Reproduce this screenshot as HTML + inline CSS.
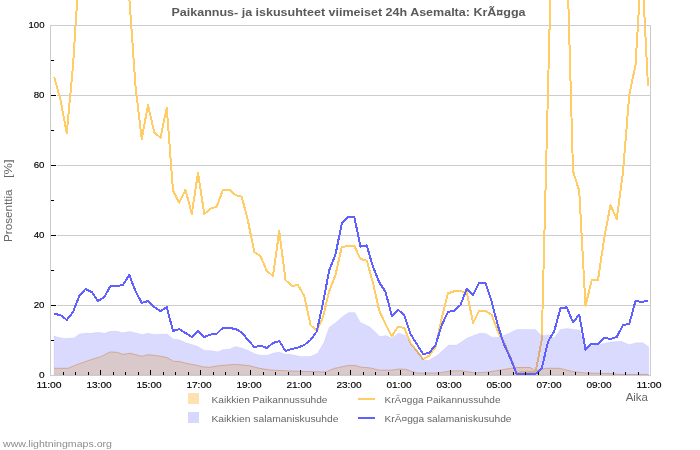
<!DOCTYPE html>
<html><head><meta charset="utf-8"><style>
html,body{margin:0;padding:0;background:#fff;}
body{width:700px;height:450px;overflow:hidden;position:relative;}
svg{position:absolute;left:0;top:0;will-change:transform;}
text{font-family:"Liberation Sans",sans-serif;}
</style></head><body>
<svg width="700" height="450" viewBox="0 0 700 450">
<rect x="0" y="0" width="700" height="450" fill="#fff"/>
<line x1="57" y1="95.5" x2="650" y2="95.5" stroke="#cccccc" stroke-width="1"/><line x1="57" y1="165.5" x2="650" y2="165.5" stroke="#cccccc" stroke-width="1"/><line x1="57" y1="235.5" x2="650" y2="235.5" stroke="#cccccc" stroke-width="1"/><line x1="57" y1="305.5" x2="650" y2="305.5" stroke="#cccccc" stroke-width="1"/>
<polygon points="54.0,375.0 54.0,368.3 68.0,368.3 76.7,364.7 90.0,360.0 100.7,356.7 110.0,352.0 117.3,352.3 122.7,354.4 130.0,353.3 142.0,356.3 148.0,354.7 154.0,355.3 160.7,356.3 167.3,357.6 173.3,361.3 179.3,361.6 186.0,363.3 196.7,365.3 203.3,367.0 210.0,367.3 216.7,366.0 223.3,365.3 235.3,364.4 248.7,365.6 259.3,368.3 270.0,370.0 290.0,371.0 325.6,372.0 334.4,368.4 348.7,365.4 354.9,365.4 361.0,367.2 370.0,367.9 378.9,370.2 391.3,370.2 399.3,369.0 405.6,369.3 416.2,372.9 423.3,373.2 439.3,372.9 450.0,371.1 460.9,370.7 474.9,373.0 487.3,372.2 501.3,369.9 515.3,367.5 530.0,367.5 535.4,370.7 545.6,368.3 559.5,368.3 572.0,371.4 584.4,373.0 610.0,373.5 620.0,374.4 648.7,374.4 648.7,375.0" fill="#ffecc1"/>
<polyline points="54.0,368.3 68.0,368.3 76.7,364.7 90.0,360.0 100.7,356.7 110.0,352.0 117.3,352.3 122.7,354.4 130.0,353.3 142.0,356.3 148.0,354.7 154.0,355.3 160.7,356.3 167.3,357.6 173.3,361.3 179.3,361.6 186.0,363.3 196.7,365.3 203.3,367.0 210.0,367.3 216.7,366.0 223.3,365.3 235.3,364.4 248.7,365.6 259.3,368.3 270.0,370.0 290.0,371.0 325.6,372.0 334.4,368.4 348.7,365.4 354.9,365.4 361.0,367.2 370.0,367.9 378.9,370.2 391.3,370.2 399.3,369.0 405.6,369.3 416.2,372.9 423.3,373.2 439.3,372.9 450.0,371.1 460.9,370.7 474.9,373.0 487.3,372.2 501.3,369.9 515.3,367.5 530.0,367.5 535.4,370.7 545.6,368.3 559.5,368.3 572.0,371.4 584.4,373.0 610.0,373.5 620.0,374.4 648.7,374.4" fill="none" stroke="#f0b060" stroke-width="1" stroke-opacity="0.7"/>
<polyline points="54.25,77.0 60.50,100.0 66.75,133.0 73.00,66.0 79.25,-32.0 85.50,-120.0 91.75,-150.0 98.00,-150.0 104.25,-150.0 110.50,-150.0 116.75,-150.0 123.00,-100.0 129.25,-3.0 135.50,86.0 141.75,139.0 148.00,105.0 154.25,132.3 160.50,137.7 166.75,107.7 173.00,190.7 179.25,202.7 185.50,189.7 191.75,214.0 198.00,172.7 204.25,214.0 210.50,208.7 216.75,206.7 223.00,189.6 229.25,189.6 235.50,195.0 241.75,196.7 248.00,221.0 254.25,252.0 260.50,256.0 266.75,271.0 273.00,276.0 279.25,231.0 285.50,280.0 291.75,286.0 298.00,285.0 304.25,296.0 310.50,325.0 316.75,331.0 323.00,317.0 329.25,291.0 335.50,275.0 341.75,247.0 348.00,246.0 354.25,246.0 360.50,259.0 366.75,260.6 373.00,283.0 379.25,310.7 385.50,324.0 391.75,336.4 398.00,326.7 404.25,328.0 410.50,343.0 416.75,351.0 423.00,359.0 429.25,355.7 435.50,347.0 441.75,318.0 448.00,293.3 454.25,291.3 460.50,291.3 466.75,292.0 473.00,322.7 479.25,310.7 485.50,310.7 491.75,315.0 498.00,332.0 504.25,342.7 510.50,357.5 516.75,373.3 523.00,372.0 529.25,372.0 535.50,372.0 541.75,340.0 548.00,90.0 554.25,-160.0 560.50,-200.0 566.75,-55.0 573.00,171.0 579.25,191.0 585.50,306.0 591.75,280.0 598.00,280.0 604.25,238.0 610.50,205.0 616.75,219.0 623.00,172.0 629.25,95.0 635.50,65.0 641.75,-38.0 648.00,86.0" fill="none" stroke="#ffcc66" stroke-width="2" stroke-linejoin="round" shape-rendering="crispEdges"/>
<polygon points="54.0,375.0 54.0,336.0 58.0,337.3 64.0,338.4 74.0,338.0 79.3,334.0 85.3,333.3 91.3,333.3 98.0,332.3 104.7,333.3 110.0,331.3 117.3,331.3 122.0,332.7 130.0,331.5 135.3,332.7 142.0,334.4 148.0,333.3 154.0,334.4 167.3,334.0 173.3,339.3 179.3,339.7 186.0,342.7 196.7,346.0 204.7,350.4 210.0,350.4 218.0,351.7 223.3,349.6 229.3,349.3 235.3,346.4 242.0,348.0 248.7,350.7 255.3,354.0 260.7,355.3 267.3,355.3 272.7,353.3 279.3,352.0 284.7,354.0 290.0,354.3 300.7,356.5 310.4,356.5 317.6,353.3 323.8,342.7 329.1,327.6 336.2,322.2 343.3,316.0 348.7,312.4 354.9,312.4 360.2,322.2 370.0,327.0 379.8,336.4 386.0,335.6 392.2,338.2 398.4,332.9 405.6,335.6 410.9,344.4 418.0,351.6 423.3,359.6 428.7,360.4 437.6,355.1 448.7,345.0 456.7,345.0 467.1,338.0 479.5,333.3 485.8,333.6 492.0,337.2 498.2,337.2 507.5,334.1 516.9,329.4 535.4,329.4 541.7,335.7 548.7,334.9 554.1,338.0 560.3,329.4 567.3,328.4 579.8,330.2 584.4,347.3 592.2,345.8 600.0,344.2 610.7,342.0 621.3,341.3 629.3,344.7 636.0,342.7 642.7,342.7 648.7,346.7 648.7,375.0" fill="#0000ff" fill-opacity="0.145" stroke="#0000ff" stroke-opacity="0.06" stroke-width="1"/>
<polyline points="54.25,314.0 60.50,315.0 66.75,320.0 73.00,312.0 79.25,296.0 85.50,289.0 91.75,292.0 98.00,301.0 104.25,297.0 110.50,286.0 116.75,286.0 123.00,285.0 129.25,275.0 135.50,291.0 141.75,303.0 148.00,301.0 154.25,307.0 160.50,311.0 166.75,307.0 173.00,331.0 179.25,329.0 185.50,333.0 191.75,337.0 198.00,331.0 204.25,337.0 210.50,334.6 216.75,333.7 223.00,327.7 229.25,328.0 235.50,329.0 241.75,332.3 248.00,340.0 254.25,347.0 260.50,345.7 266.75,348.0 273.00,343.0 279.25,341.0 285.50,351.0 291.75,349.0 298.00,347.6 304.25,345.0 310.50,340.0 316.75,331.5 323.00,303.0 329.25,270.0 335.50,254.5 341.75,223.5 348.00,216.5 354.25,216.5 360.50,246.7 366.75,245.3 373.00,267.0 379.25,282.3 385.50,291.7 391.75,316.0 398.00,309.7 404.25,315.3 410.50,334.0 416.75,344.0 423.00,354.0 429.25,353.0 435.50,345.0 441.75,325.0 448.00,312.0 454.25,310.7 460.50,305.0 466.75,288.7 473.00,294.7 479.25,282.7 485.50,283.0 491.75,302.0 498.00,326.0 504.25,345.0 510.50,358.5 516.75,374.0 523.00,374.0 529.25,374.0 535.50,374.0 541.75,368.3 548.00,341.7 554.25,331.0 560.50,308.3 566.75,307.3 573.00,322.3 579.25,314.7 585.50,349.7 591.75,343.7 598.00,343.7 604.25,337.7 610.50,339.0 616.75,337.0 623.00,325.0 629.25,324.0 635.50,301.0 641.75,302.0 648.00,300.7" fill="none" stroke="#6060ff" stroke-width="2" stroke-linejoin="round" shape-rendering="crispEdges"/>
<rect x="50" y="25" width="600" height="350" fill="none" stroke="#cccccc" stroke-width="1" transform="translate(0.5,0.5)"/>
<rect x="51" y="340" width="3" height="1" fill="#000"/><rect x="51" y="305" width="5" height="1" fill="#000"/><rect x="51" y="270" width="3" height="1" fill="#000"/><rect x="51" y="235" width="5" height="1" fill="#000"/><rect x="51" y="200" width="3" height="1" fill="#000"/><rect x="51" y="165" width="5" height="1" fill="#000"/><rect x="51" y="130" width="3" height="1" fill="#000"/><rect x="51" y="95" width="5" height="1" fill="#000"/><rect x="51" y="60" width="3" height="1" fill="#000"/><rect x="63" y="372" width="1" height="3" fill="#000"/><rect x="75" y="372" width="1" height="3" fill="#000"/><rect x="88" y="372" width="1" height="3" fill="#000"/><rect x="100" y="370" width="1" height="5" fill="#000"/><rect x="113" y="372" width="1" height="3" fill="#000"/><rect x="125" y="372" width="1" height="3" fill="#000"/><rect x="138" y="372" width="1" height="3" fill="#000"/><rect x="150" y="370" width="1" height="5" fill="#000"/><rect x="163" y="372" width="1" height="3" fill="#000"/><rect x="175" y="372" width="1" height="3" fill="#000"/><rect x="188" y="372" width="1" height="3" fill="#000"/><rect x="200" y="370" width="1" height="5" fill="#000"/><rect x="213" y="372" width="1" height="3" fill="#000"/><rect x="225" y="372" width="1" height="3" fill="#000"/><rect x="238" y="372" width="1" height="3" fill="#000"/><rect x="250" y="370" width="1" height="5" fill="#000"/><rect x="263" y="372" width="1" height="3" fill="#000"/><rect x="275" y="372" width="1" height="3" fill="#000"/><rect x="288" y="372" width="1" height="3" fill="#000"/><rect x="300" y="370" width="1" height="5" fill="#000"/><rect x="313" y="372" width="1" height="3" fill="#000"/><rect x="325" y="372" width="1" height="3" fill="#000"/><rect x="338" y="372" width="1" height="3" fill="#000"/><rect x="350" y="370" width="1" height="5" fill="#000"/><rect x="363" y="372" width="1" height="3" fill="#000"/><rect x="375" y="372" width="1" height="3" fill="#000"/><rect x="388" y="372" width="1" height="3" fill="#000"/><rect x="400" y="370" width="1" height="5" fill="#000"/><rect x="413" y="372" width="1" height="3" fill="#000"/><rect x="425" y="372" width="1" height="3" fill="#000"/><rect x="438" y="372" width="1" height="3" fill="#000"/><rect x="450" y="370" width="1" height="5" fill="#000"/><rect x="463" y="372" width="1" height="3" fill="#000"/><rect x="475" y="372" width="1" height="3" fill="#000"/><rect x="488" y="372" width="1" height="3" fill="#000"/><rect x="500" y="370" width="1" height="5" fill="#000"/><rect x="513" y="372" width="1" height="3" fill="#000"/><rect x="525" y="372" width="1" height="3" fill="#000"/><rect x="538" y="372" width="1" height="3" fill="#000"/><rect x="550" y="370" width="1" height="5" fill="#000"/><rect x="563" y="372" width="1" height="3" fill="#000"/><rect x="575" y="372" width="1" height="3" fill="#000"/><rect x="588" y="372" width="1" height="3" fill="#000"/><rect x="600" y="370" width="1" height="5" fill="#000"/><rect x="613" y="372" width="1" height="3" fill="#000"/><rect x="625" y="372" width="1" height="3" fill="#000"/><rect x="638" y="372" width="1" height="3" fill="#000"/>
<g font-size="9.9" fill="#000" stroke="#000" stroke-width="0.15"><text x="44.5" y="378.4" text-anchor="end" textLength="5.6" lengthAdjust="spacingAndGlyphs">0</text><text x="44.5" y="308.4" text-anchor="end" textLength="10.8" lengthAdjust="spacingAndGlyphs">20</text><text x="44.5" y="238.4" text-anchor="end" textLength="10.8" lengthAdjust="spacingAndGlyphs">40</text><text x="44.5" y="168.4" text-anchor="end" textLength="10.8" lengthAdjust="spacingAndGlyphs">60</text><text x="44.5" y="98.4" text-anchor="end" textLength="10.8" lengthAdjust="spacingAndGlyphs">80</text><text x="44.5" y="28.4" text-anchor="end" textLength="16" lengthAdjust="spacingAndGlyphs">100</text><text x="49.0" y="387.9" text-anchor="middle" textLength="25.2" lengthAdjust="spacingAndGlyphs">11:00</text><text x="99.0" y="387.9" text-anchor="middle" textLength="25.2" lengthAdjust="spacingAndGlyphs">13:00</text><text x="149.0" y="387.9" text-anchor="middle" textLength="25.2" lengthAdjust="spacingAndGlyphs">15:00</text><text x="199.0" y="387.9" text-anchor="middle" textLength="25.2" lengthAdjust="spacingAndGlyphs">17:00</text><text x="249.0" y="387.9" text-anchor="middle" textLength="25.2" lengthAdjust="spacingAndGlyphs">19:00</text><text x="299.0" y="387.9" text-anchor="middle" textLength="25.2" lengthAdjust="spacingAndGlyphs">21:00</text><text x="349.0" y="387.9" text-anchor="middle" textLength="25.2" lengthAdjust="spacingAndGlyphs">23:00</text><text x="399.0" y="387.9" text-anchor="middle" textLength="25.2" lengthAdjust="spacingAndGlyphs">01:00</text><text x="449.0" y="387.9" text-anchor="middle" textLength="25.2" lengthAdjust="spacingAndGlyphs">03:00</text><text x="499.0" y="387.9" text-anchor="middle" textLength="25.2" lengthAdjust="spacingAndGlyphs">05:00</text><text x="549.0" y="387.9" text-anchor="middle" textLength="25.2" lengthAdjust="spacingAndGlyphs">07:00</text><text x="599.0" y="387.9" text-anchor="middle" textLength="25.2" lengthAdjust="spacingAndGlyphs">09:00</text><text x="649.0" y="387.9" text-anchor="middle" textLength="25.2" lengthAdjust="spacingAndGlyphs">11:00</text></g>
<text x="171.5" y="16" font-size="10.8" font-weight="bold" fill="#5a5a5a" textLength="354" lengthAdjust="spacingAndGlyphs">Paikannus- ja iskusuhteet viimeiset 24h Asemalta: KrÃ¤gga</text>
<g transform="translate(12.3,0) rotate(-90)" font-size="10" fill="#666666">
<text x="-242" y="0" textLength="52.5" lengthAdjust="spacingAndGlyphs">Prosenttia</text>
<text x="-178" y="0" textLength="18.5" lengthAdjust="spacingAndGlyphs">[%]</text></g>
<text x="648" y="401.2" text-anchor="end" font-size="11.5" fill="#666666">Aika</text>
<rect x="188" y="393" width="11" height="11" fill="#ffe0b0"/>
<rect x="188" y="412" width="11" height="11" fill="#d8d8ff"/>
<rect x="358" y="398" width="17" height="2" fill="#ffcc66"/>
<rect x="358" y="417" width="17" height="2" fill="#6060ff"/>
<g font-size="9.5" fill="#666666">
<text x="211.5" y="403" textLength="116" lengthAdjust="spacingAndGlyphs">Kaikkien Paikannussuhde</text>
<text x="211.5" y="422" textLength="127" lengthAdjust="spacingAndGlyphs">Kaikkien salamaniskusuhde</text>
<text x="384.5" y="403" textLength="116" lengthAdjust="spacingAndGlyphs">KrÃ¤gga Paikannussuhde</text>
<text x="384.5" y="422" textLength="127" lengthAdjust="spacingAndGlyphs">KrÃ¤gga salamaniskusuhde</text>
</g>
<text x="3" y="446.8" font-size="9.5" fill="#8e8e8e" textLength="109" lengthAdjust="spacingAndGlyphs">www.lightningmaps.org</text>
</svg>
</body></html>
